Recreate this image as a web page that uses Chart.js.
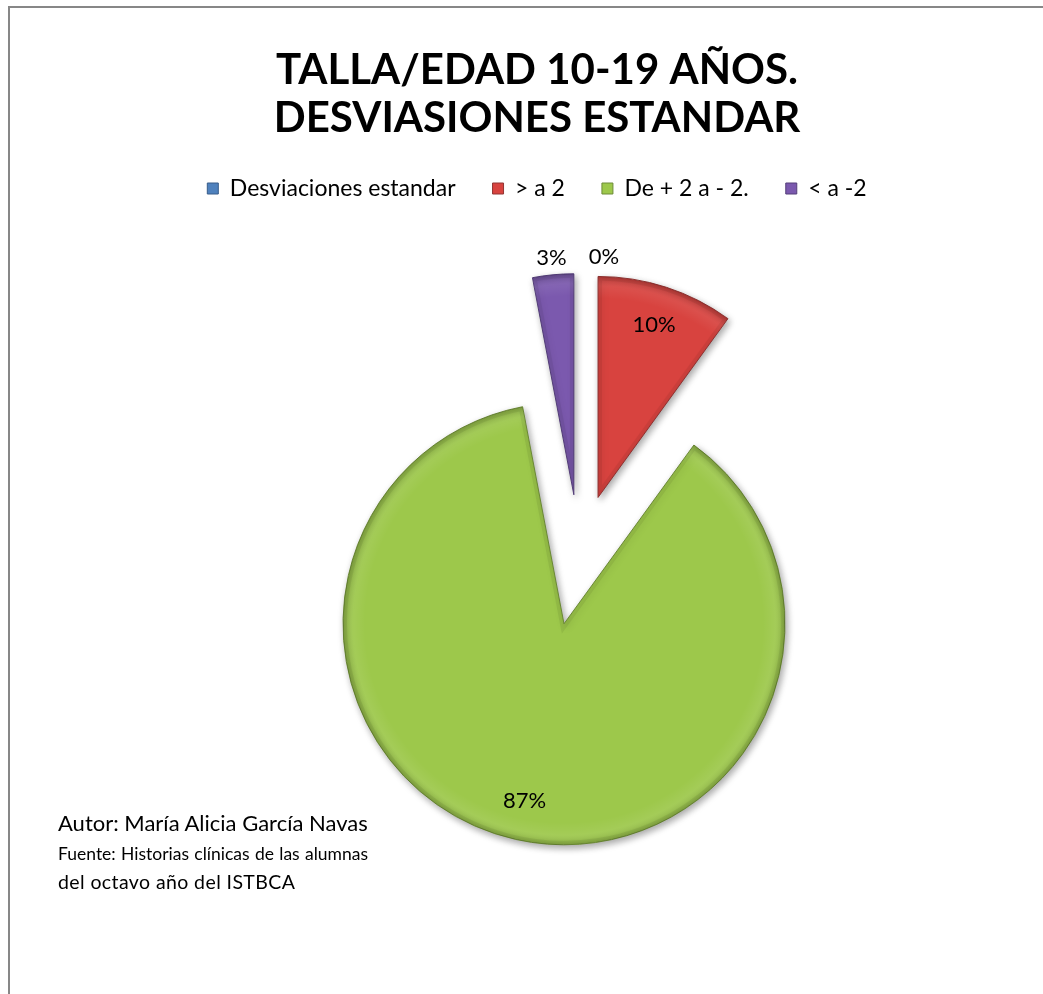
<!DOCTYPE html>
<html lang="es">
<head>
<meta charset="utf-8">
<title>Talla/Edad 10-19 años</title>
<script src="https://cdn.jsdelivr.net/npm/chart.js"></script>
<style>
  html, body { margin: 0; padding: 0; background: #fff; overflow: hidden; }
  body { width: 1043px; height: 994px; position: relative; font-family: Lato, "Noto Sans", sans-serif; color: #000; }
  .marco { position: absolute; left: 8px; top: 6px; width: 1200px; height: 1200px; border: 2px solid #878787; box-sizing: border-box; }
  #grafico { position: absolute; left: 0; top: 0; }
  .nota { position: absolute; left: 58px; white-space: nowrap; line-height: 1.2; }
  .autor { top: 810px; font-size: 22px; }
  .fuente { top: 843px; font-size: 17.5px; width: 310px; text-align: justify; text-align-last: justify; }
  .fuente2 { top: 870px; font-size: 19.5px; letter-spacing: 0.4px; }
</style>
</head>
<body>
<div class="marco"></div>
<canvas id="grafico" width="1043" height="994"></canvas>
<div class="nota autor">Autor: María Alicia García Navas</div>
<div class="nota fuente">Fuente: Historias clínicas de las alumnas</div>
<div class="nota fuente2">del octavo año del ISTBCA</div>
<script>
const tituloLineas = ['TALLA/EDAD 10-19 AÑOS.', 'DESVIASIONES ESTANDAR'];
const categorias = ['Desviaciones estandar', '> a 2', 'De + 2 a - 2.', '< a -2'];
const porcentajes = [0, 10, 87, 3];

const colores = ['#4F81BD', '#D8433F', '#9DC84B', '#7B59AE'];
const bordes = ['#385D8A', '#923533', '#6E8C38', '#553F7A'];
const separacion = [60, 60, 71, 60];

Chart.defaults.font.family = 'Lato, "Noto Sans", sans-serif';
Chart.defaults.color = '#000';

// pie whose slices are pulled out from the centre along their bisector
const PieBase = Chart.registry.getController('pie');
class PastelSeparado extends PieBase {
  updateElements(arcs, start, count, mode) {
    super.updateElements(arcs, start, count, mode);
    const sep = this.getDataset().separacion || [];
    for (let i = start; i < start + count; i++) {
      const arc = arcs[i];
      const d = sep[i] || 0;
      const mitad = arc.startAngle + arc.circumference / 2;
      arc.x += Math.cos(mitad) * d;
      arc.y += Math.sin(mitad) * d;
    }
  }
}
PastelSeparado.id = 'pastelSeparado';
PastelSeparado.defaults = PieBase.defaults;
PastelSeparado.overrides = PieBase.overrides;
Chart.register(PastelSeparado);

// empty box on the left so the pie sits right of the title/legend centre
const margenIzquierdo = {
  id: 'margenIzquierdo',
  beforeInit(chart) {
    Chart.layouts.addBox(chart, {
      position: 'left', weight: 0, fullSize: false, options: {},
      width: 0, height: 0, left: 0, top: 0, right: 0, bottom: 0,
      isHorizontal() { return false; },
      update(maxWidth, maxHeight) { this.width = 85; this.height = maxHeight; },
      draw() {}
    });
  }
};

// shadow, edge shading and percentage labels
const acabado = {
  id: 'acabado',
  beforeDatasetsDraw(chart) {
    const ctx = chart.ctx;
    ctx.save();
    ctx.shadowColor = 'rgba(0,0,0,0.35)';
    ctx.shadowBlur = 7;
    ctx.shadowOffsetX = 2;
    ctx.shadowOffsetY = 3;
  },
  afterDatasetsDraw(chart) {
    const ctx = chart.ctx;
    ctx.restore();
    const arcs = chart.getDatasetMeta(0).data;
    const valores = chart.data.datasets[0].data;

    arcs.forEach(arc => {
      if (arc.circumference <= 0) return;
      ctx.save();
      ctx.beginPath();
      ctx.moveTo(arc.x, arc.y);
      ctx.arc(arc.x, arc.y, arc.outerRadius, arc.startAngle, arc.endAngle);
      ctx.closePath();
      ctx.clip();
      const g = ctx.createRadialGradient(arc.x, arc.y, arc.outerRadius * 0.9, arc.x, arc.y, arc.outerRadius);
      g.addColorStop(0, 'rgba(255,255,255,0)');
      g.addColorStop(0.55, 'rgba(255,255,255,0.07)');
      g.addColorStop(1, 'rgba(0,0,0,0.16)');
      ctx.fillStyle = g;
      ctx.fill();
      ctx.lineWidth = 8;
      ctx.strokeStyle = 'rgba(0,0,0,0.06)';
      ctx.stroke();
      ctx.restore();
    });

    ctx.save();
    ctx.font = '22px Lato, "Noto Sans", sans-serif';
    ctx.fillStyle = '#000';
    ctx.textAlign = 'center';
    ctx.textBaseline = 'middle';
    const colocadas = [];
    const orden = valores.map((v, i) => i).sort((a, b) => valores[b] - valores[a]);
    orden.forEach(i => {
      const arc = arcs[i];
      const texto = valores[i] + '%';
      const mitad = arc.startAngle + arc.circumference / 2;
      const fuera = valores[i] < 5;
      const dist = fuera ? arc.outerRadius + 17 : arc.outerRadius * 0.82;
      let x = arc.x + Math.cos(mitad) * dist;
      const y = arc.y + Math.sin(mitad) * dist;
      const w = ctx.measureText(texto).width;
      if (fuera) {
        const dir = Math.cos(mitad) >= 0 ? 1 : -1;
        colocadas.forEach(p => {
          if (Math.abs(p.y - y) < 20 && Math.abs(p.x - x) < (p.w + w) / 2 + 22) {
            x = p.x + dir * ((p.w + w) / 2 + 22);
          }
        });
        colocadas.push({x, y, w});
      }
      ctx.fillText(texto, x, y);
    });
    ctx.restore();
  }
};

new Chart(document.getElementById('grafico'), {
  type: 'pastelSeparado',
  data: {
    labels: categorias,
    datasets: [{
      data: porcentajes,
      separacion: separacion,
      backgroundColor: colores,
      borderColor: bordes,
      borderWidth: 1,
      radius: 221
    }]
  },
  options: {
    responsive: false,
    animation: false,
    events: [],
    layout: { padding: { left: 31, right: 0, top: 0, bottom: 95 } },
    plugins: {
      title: {
        display: true,
        text: tituloLineas,
        color: '#000',
        font: { size: 42, weight: 'bold', lineHeight: 1.143 },
        padding: { top: 46, bottom: -2 }
      },
      legend: {
        position: 'top',
        labels: {
          boxWidth: 11,
          boxHeight: 11,
          padding: 37,
          color: '#000',
          font: { size: 23 }
        }
      },
      tooltip: { enabled: false }
    }
  },
  plugins: [margenIzquierdo, acabado]
});
</script>
</body>
</html>
